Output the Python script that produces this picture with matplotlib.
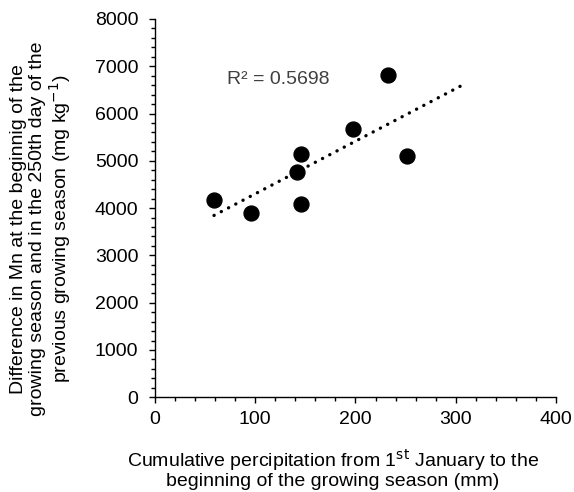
import numpy as np
import matplotlib.pyplot as plt
from matplotlib.ticker import MultipleLocator

plt.rcParams['font.family'] = ['Liberation Sans', 'DejaVu Sans']

# precipitation (mm) vs Mn difference (mg/kg)
precip = [58.9, 95.8, 145.6, 141.6, 145.6, 197.8, 232.4, 251.7]
mn_diff = [4175, 3893, 4083, 4760, 5148, 5663, 6812, 5106]
trend_x = [58.9, 307]
r2_label = "R² = 0.5698"

fig = plt.figure(figsize=(5.74, 4.92), dpi=100)
ax = fig.add_axes([0.270, 0.1925, 0.6986, 0.769])

slope, inter = np.polyfit(precip, mn_diff, 1)
tx = np.array(trend_x)
ax.plot(tx, slope * tx + inter, color='black', lw=2.4,
        linestyle=(0, (0.05, 2.4)), dash_capstyle='round', zorder=2)
ax.scatter(precip, mn_diff, s=115, color='black', zorder=3)

ax.text(72, 6725, r2_label, fontsize=14, color='#404040', va='center', ha='left')

ax.set_xlim(0, 400)
ax.set_ylim(0, 8000)
ax.xaxis.set_major_locator(MultipleLocator(100))
ax.xaxis.set_minor_locator(MultipleLocator(20))
ax.yaxis.set_major_locator(MultipleLocator(1000))
ax.yaxis.set_minor_locator(MultipleLocator(200))
ax.tick_params(which='major', length=4, width=1, labelsize=14, direction='out')
ax.tick_params(axis='y', which='major', pad=8)
ax.tick_params(axis='x', which='major', pad=6)
ax.tick_params(which='minor', length=3, width=1, direction='out')

for s in ['top', 'right']:
    ax.spines[s].set_visible(False)
for s in ['left', 'bottom']:
    ax.spines[s].set_linewidth(1)

ax.set_xlabel("Cumulative percipitation from 1$^{\\mathrm{st}}$ January to the\nbeginning of the growing season (mm)",
              fontsize=14, linespacing=1.0, va='center')
ax.xaxis.set_label_coords(0.443, -0.188)
ax.set_ylabel("Difference in Mn at the beginnig of the\ngrowing season and in the 250th day of the\nprevious growing season (mg kg$^{-1}$)",
              fontsize=14, linespacing=1.1, va='center')
ax.yaxis.set_label_coords(-0.282, 0.445)

fig.savefig('out.png', dpi=100)
